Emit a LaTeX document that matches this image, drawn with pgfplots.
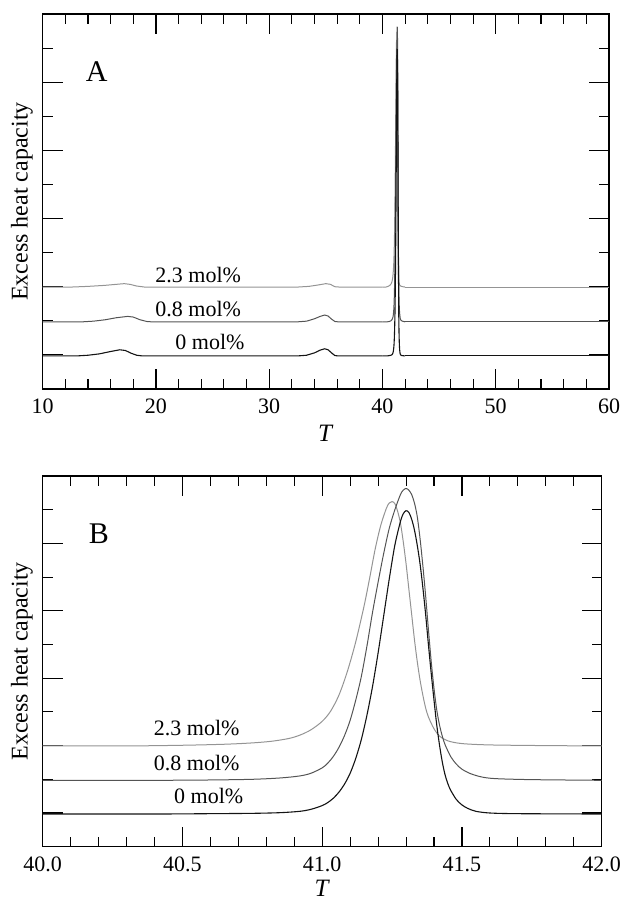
\documentclass[border=0pt]{standalone}
\usepackage{fontspec}
\setmainfont{Liberation Serif}
\usepackage{pgfplots}
\usepackage{pgfplotstable}
\pgfplotsset{compat=1.18}

\definecolor{cK}{gray}{0.08}
\definecolor{cM}{gray}{0.33}
\definecolor{cL}{gray}{0.58}

% ---- main transition region (T, excess heat capacity, offset units) ----
\pgfplotstableread{
T u
40.00 0.97
40.40 0.97
40.60 0.98
40.75 0.99
40.85 1.01
40.92 1.05
40.96 1.11
41.00 1.22
41.02 1.31
41.04 1.44
41.06 1.62
41.08 1.86
41.10 2.18
41.12 2.62
41.14 3.18
41.16 3.90
41.18 4.75
41.20 5.75
41.22 6.85
41.24 7.95
41.26 8.95
41.28 9.65
41.29 9.88
41.30 9.97
41.31 9.92
41.32 9.72
41.33 9.40
41.34 8.95
41.35 8.40
41.36 7.70
41.37 6.90
41.38 6.00
41.39 5.15
41.40 4.35
41.41 3.60
41.42 3.00
41.43 2.50
41.44 2.12
41.45 1.86
41.46 1.67
41.48 1.40
41.50 1.24
41.52 1.14
41.55 1.05
41.60 1.00
41.70 0.98
42.00 0.97
}\peakK

\pgfplotstableread{
T u
40.00 1.97
40.40 1.97
40.60 1.98
40.75 2.00
40.85 2.04
40.92 2.10
40.96 2.18
41.00 2.34
41.02 2.48
41.04 2.68
41.06 2.95
41.08 3.30
41.10 3.75
41.12 4.35
41.14 5.05
41.16 5.95
41.18 6.95
41.20 7.85
41.22 8.70
41.24 9.45
41.26 10.00
41.28 10.45
41.29 10.58
41.30 10.63
41.31 10.58
41.32 10.45
41.33 10.20
41.34 9.80
41.35 9.15
41.36 8.35
41.37 7.45
41.38 6.45
41.39 5.50
41.40 4.70
41.41 4.05
41.42 3.60
41.43 3.27
41.44 3.02
41.46 2.67
41.48 2.45
41.50 2.30
41.53 2.17
41.57 2.07
41.62 2.02
41.75 1.99
42.00 1.97
}\peakM

\pgfplotstableread{
T u
40.00 2.99
40.30 2.99
40.50 3.01
40.65 3.04
40.75 3.08
40.82 3.13
40.88 3.21
40.92 3.31
40.96 3.47
41.00 3.72
41.03 4.02
41.06 4.50
41.09 5.20
41.12 6.08
41.15 7.15
41.17 7.98
41.19 8.85
41.21 9.55
41.23 10.05
41.24 10.20
41.25 10.24
41.26 10.18
41.27 9.95
41.28 9.60
41.29 9.05
41.30 8.40
41.31 7.65
41.32 6.90
41.33 6.15
41.34 5.50
41.35 4.95
41.36 4.50
41.37 4.12
41.38 3.85
41.40 3.50
41.42 3.28
41.45 3.14
41.50 3.06
41.60 3.02
41.80 3.00
42.00 2.99
}\peakL

% ---- pre-transitions (panel A, 10 to 40) ----
\pgfplotstableread{
T u
10 0.97
13 0.97
14 0.99
15 1.03
16 1.10
16.8 1.15
17.3 1.13
17.8 1.05
18.3 0.99
18.8 0.97
25 0.97
32.5 0.97
33.3 0.99
34.0 1.06
34.5 1.14
34.9 1.18
35.2 1.15
35.5 1.06
35.8 0.98
36.1 0.97
40 0.97
}\lowK

\pgfplotstableread{
T u
10 1.97
13.5 1.97
14.5 1.99
15.5 2.03
16.5 2.09
17.5 2.13
18.0 2.11
18.6 2.03
19.2 1.98
19.6 1.97
25 1.97
32.5 1.97
33.3 1.99
34.0 2.06
34.5 2.13
34.9 2.17
35.2 2.14
35.5 2.05
35.8 1.98
36.1 1.97
40 1.97
}\lowM

\pgfplotstableread{
T u
10 2.99
12.5 2.99
14 3.01
15.5 3.04
16.5 3.07
17.2 3.09
17.7 3.07
18.3 3.02
19 2.99
25 2.99
32.5 2.99
33.5 3.01
34.3 3.05
35.0 3.09
35.4 3.07
35.8 3.00
36.2 2.99
40 2.99
}\lowL

\pgfplotsset{
  panel/.style={
    scale only axis,
    no markers,
    axis line style={line width=0.65pt},
    tick align=inside,
    tick pos=both,
    major tick length=10pt,
    minor tick length=5pt,
    every tick/.style={line width=0.55pt, black},
    ymin=0, ymax=11,
    ytick={1,3,5,7,9},
    minor ytick={2,4,6,8,10},
    yticklabels={},
    minor x tick num=4,
    /pgf/number format/assume math mode=true,
    ticklabel style={font=\fontsize{11}{13}\selectfont},
    xticklabel style={anchor=base, yshift=-12.3pt},
    xlabel={\textit{T}},
    every axis x label/.style={at={(axis description cs:0.5,0)}, anchor=base, yshift=-26.5pt, font=\fontsize{12.5}{14}\selectfont},
    ylabel={Excess heat capacity},
    every axis y label/.style={at={(axis description cs:0,0.5)}, rotate=90, anchor=south, inner sep=4.7pt, font=\fontsize{12}{14}\selectfont},
  },
  lK/.style={color=cK, line width=0.55pt},
  lM/.style={color=cM, line width=0.5pt},
  lL/.style={color=cL, line width=0.5pt},
}

\begin{document}
\begin{tikzpicture}
\useasboundingbox (0,0) rectangle (310.5pt,450pt);

% ---------------- Panel A ----------------
\begin{axis}[panel,
  at={(21.35pt,255.5pt)}, anchor=south west,
  width=283.15pt, height=187.5pt,
  xmin=10, xmax=60,
  xtick={10,20,30,40,50,60},
]
\addplot[lL] table[x=T,y=u] {\lowL};
\addplot[lL] table[x=T,y=u] {\peakL};
\addplot[lL] coordinates {(42,2.99) (50,2.99) (60,2.99)};
\addplot[lM] table[x=T,y=u] {\lowM};
\addplot[lM] table[x=T,y=u] {\peakM};
\addplot[lM] coordinates {(42,1.97) (50,1.97) (60,1.97)};
\addplot[lK] table[x=T,y=u] {\lowK};
\addplot[lK] table[x=T,y=u] {\peakK};
\addplot[lK] coordinates {(42,0.97) (50,0.97) (60,0.97)};
\node[anchor=base, font=\fontsize{15}{18}\selectfont] at (axis cs:14.77,9.01) {A};
\node[anchor=base, font=\fontsize{11}{13}\selectfont] at (axis cs:23.73,3.12) {2.3 mol\%};
\node[anchor=base, font=\fontsize{11}{13}\selectfont] at (axis cs:23.73,2.14) {0.8 mol\%};
\node[anchor=base, font=\fontsize{11}{13}\selectfont] at (axis cs:24.77,1.16) {0 mol\%};
\end{axis}

% ---------------- Panel B ----------------
\begin{axis}[panel,
  at={(21.35pt,26.65pt)}, anchor=south west,
  width=279.5pt, height=185.35pt,
  xmin=40, xmax=42,
  xtick={40,40.5,41,41.5,42},
  xticklabel style={/pgf/number format/.cd, fixed, fixed zerofill, precision=1},
  every axis x label/.append style={yshift=1.5pt},
]
\addplot[lL, smooth] table[x=T,y=u] {\peakL};
\addplot[lM, smooth] table[x=T,y=u] {\peakM};
\addplot[lK, smooth] table[x=T,y=u] {\peakK};
\node[anchor=base, font=\fontsize{15}{18}\selectfont] at (axis cs:40.2007,9.0) {B};
\node[anchor=base, font=\fontsize{11}{13}\selectfont] at (axis cs:40.551,3.31) {2.3 mol\%};
\node[anchor=base, font=\fontsize{11}{13}\selectfont] at (axis cs:40.551,2.26) {0.8 mol\%};
\node[anchor=base, font=\fontsize{11}{13}\selectfont] at (axis cs:40.594,1.27) {0 mol\%};
\end{axis}
\end{tikzpicture}
\end{document}
